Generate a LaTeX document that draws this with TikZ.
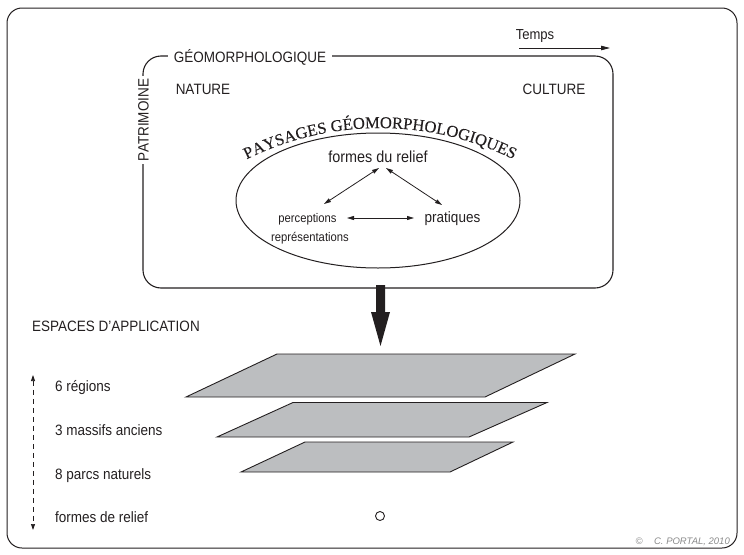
\documentclass[tikz,border=0pt]{standalone}
\usepackage{fontspec}
\setmainfont{Liberation Sans}[FakeStretch=0.9]
\newfontfamily\plainsans{Liberation Sans}
\newfontfamily\serifcaps{Liberation Serif}[FakeBold=0.15]
\usetikzlibrary{arrows.meta,decorations.text,shapes.geometric}
\definecolor{ink}{HTML}{231F20}
\definecolor{planegray}{HTML}{BCBEC0}
\definecolor{cpgray}{HTML}{8A8A8A}
\newcommand\fs[1]{\fontsize{#1}{#1}\selectfont}
\begin{document}
\begin{tikzpicture}[x=1pt,y=-1pt,
  lbl/.style={inner sep=0pt, text=ink, font=\fs{15}},
  frame/.style={draw=ink, line width=1.1pt},
  dbl/.style={{Triangle[length=7pt,width=4pt]}-{Triangle[length=7pt,width=4pt]}, line width=0.8pt, draw=ink},
  plane/.style={fill=planegray, draw=ink, line width=0.9pt, line join=miter},
  vdash/.style={{Triangle[length=6pt,width=4pt]}-{Triangle[length=6pt,width=4pt]}, dash pattern=on 5pt off 4pt, line width=0.7pt, draw=ink},
]
\useasboundingbox (0,0) rectangle (744,554);
% outer frame
\draw[draw=ink, line width=1pt, rounded corners=15pt] (7,8) rectangle (737,548);
% inner frame
\draw[frame, rounded corners=18pt] (143,56) rectangle (613,288);
\node[lbl, fill=white, inner xsep=6pt, anchor=base] (geo) at (250,62) {GÉOMORPHOLOGIQUE};
\node[lbl, fill=white, rotate=90, inner xsep=3pt] (pat) at (143.5,120) {PATRIMOINE};
\node[lbl, anchor=base] (nat) at (203,94) {NATURE};
\node[lbl, anchor=base] (cul) at (554,94) {CULTURE};
% time arrow
\node[lbl, font=\fs{14.5}, anchor=base] (temps) at (535,39) {Temps};
\coordinate (t0) at (519,48);
\coordinate (t1) at (610,48);
\draw[draw=ink, line width=0.8pt, -{Triangle[length=9pt,width=4.5pt]}] (t0) -- (t1);
% ellipse
\node[draw=ink, ellipse, minimum width=284pt, minimum height=135pt, inner sep=0pt, line width=1pt] (ell) at (378,200.5) {};
\path[decorate, decoration={text along path, text align=center,
  text={|\serifcaps\fs{16.5}\color{ink}|PAYSAGES GÉOMORPHOLOGIQUES}}]
  (208,182.3) .. controls (311.3,110) and (448.7,110) .. (552,182.3);
\node[lbl, font=\fs{16}, anchor=base] (formes) at (378,162) {formes du relief};
\node[lbl, font=\fs{12.5}, anchor=base] (perc) at (307.5,222) {perceptions};
\node[lbl, font=\fs{12.5}, anchor=base] (repr) at (310,241) {représentations};
\node[lbl, anchor=base] (prat) at (452.5,222) {pratiques};
\coordinate (fl) at (379,168);
\coordinate (pl) at (324,204);
\coordinate (fr) at (386,168);
\coordinate (pr) at (442,205);
\coordinate (hl) at (347,218);
\coordinate (hr) at (414,218);
\draw[dbl] (fl) -- (pl);
\draw[dbl] (fr) -- (pr);
\draw[dbl] (hl) -- (hr);
% big arrow
\coordinate (ba) at (380.5,285);
\fill[ink] (ba) ++(-4.5,0) -- ++(9,0) -- ++(0,27) -- ++(5,0) -- ++(-9.5,34) -- ++(-9.5,-34) -- ++(5,0) -- cycle;
% planes
\draw[plane] (186,397) -- (277,354) -- (575,354) -- (485,397) -- cycle;
\draw[plane] (217,437) -- (293,402.5) -- (547,402.5) -- (469,437) -- cycle;
\draw[plane] (241,472) -- (305,442) -- (513,442) -- (450,472) -- cycle;
\node[draw=ink, circle, minimum size=9pt, inner sep=0pt, line width=0.9pt] (dot) at (380,516) {};
% left labels
\node[lbl, anchor=base west] (esp) at (32,331) {ESPACES D'APPLICATION};
\node[lbl, anchor=base west] (reg) at (55,391) {6 régions};
\node[lbl, anchor=base west] (mas) at (55,435) {3 massifs anciens};
\node[lbl, anchor=base west] (par) at (55,479) {8 parcs naturels};
\node[lbl, anchor=base west] (frm) at (55,522) {formes de relief};
\coordinate (d0) at (33,375);
\coordinate (d1) at (33,530);
\draw[vdash] (d0) -- (d1);
% copyright
\node[inner sep=0pt, font=\plainsans\itshape\fs{9.5}, text=cpgray, anchor=base] (cpy) at (639,544) {©};
\node[inner sep=0pt, font=\plainsans\itshape\fs{9.5}, text=cpgray, anchor=base east] (cp) at (730,544) {C. PORTAL, 2010};
\end{tikzpicture}
\end{document}
